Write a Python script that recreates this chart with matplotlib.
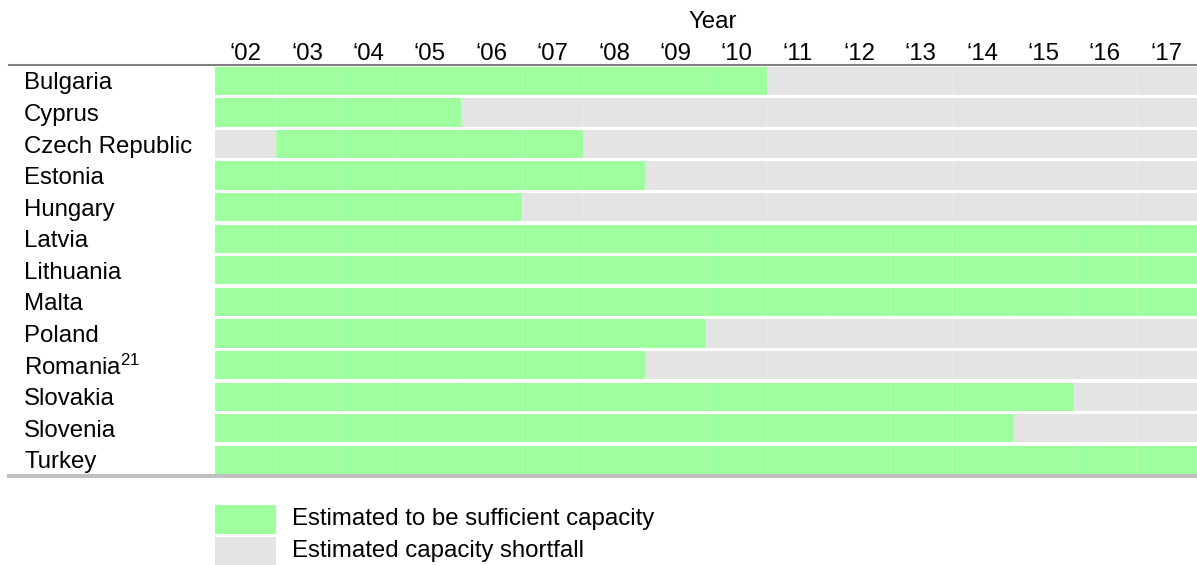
import matplotlib
matplotlib.use("Agg")
import matplotlib.pyplot as plt
from matplotlib.patches import Rectangle
from matplotlib.lines import Line2D
import numpy as np

plt.rcParams['font.family'] = ['Liberation Sans', 'DejaVu Sans']
plt.rcParams['mathtext.fontset'] = 'custom'
plt.rcParams['mathtext.rm'] = 'Liberation Sans'
plt.rcParams['mathtext.it'] = 'Liberation Sans:italic'

# ---- data ----
countries = ["Bulgaria", "Cyprus", "Czech Republic", "Estonia", "Hungary",
             "Latvia", "Lithuania", "Malta", "Poland", r"Romania$^{\mathregular{21}}$",
             "Slovakia", "Slovenia", "Turkey"]
years = list(range(2002, 2018))
year_labels = ["\u2018%02d" % (y % 100) for y in years]
start_year = [2002, 2002, 2003, 2002, 2002, 2002, 2002, 2002, 2002, 2002, 2002, 2002, 2002]
end_year = [2010, 2005, 2007, 2008, 2006, 2017, 2017, 2017, 2009, 2008, 2015, 2014, 2017]
legend_labels = ["Estimated to be sufficient capacity", "Estimated capacity shortfall"]

GREEN = "#9eff9e"
GRAY = "#e4e4e4"
FS = 17.25

W, H = 1197, 565
fig = plt.figure(figsize=(W / 100, H / 100), dpi=100)
ax_left, ax_right = 215, 1197
ax_top, ax_bot = 66.7, 474.0
ax = fig.add_axes([ax_left / W, 1 - ax_bot / H, (ax_right - ax_left) / W, (ax_bot - ax_top) / H])

n = len(countries)
bh = 0.896
rows = np.arange(n)
x0 = years[0]
ncol = len(years)

ax.barh(rows, [ncol] * n, left=0, height=bh, color=GRAY, linewidth=0)
widths = [e - s + 1 for s, e in zip(start_year, end_year)]
lefts = [s - x0 for s in start_year]
ax.barh(rows, widths, left=lefts, height=bh, color=GREEN, linewidth=0)

# faint cell boundaries
ax.vlines(np.arange(1, ncol), -bh / 2, n - 1 + bh / 2, colors="white", alpha=0.2, linewidth=0.8)

ax.set_xlim(0, ncol)
ax.set_ylim(n - 1 + bh / 2, -bh / 2)

ax.xaxis.tick_top()
ax.set_xticks(np.arange(ncol) + 0.5)
ax.set_xticklabels(year_labels, fontsize=FS)
ax.tick_params(axis='x', length=0, pad=1)

ax.set_yticks(rows)
ax.set_yticklabels(countries, fontsize=FS)
ax.tick_params(axis='y', length=0, pad=(215 - 24) * 0.72)
for lbl in ax.get_yticklabels():
    lbl.set_ha('left')

for s in ax.spines.values():
    s.set_visible(False)

ax.text(0.507, 1.095, "Year", transform=ax.transAxes, ha='center', va='baseline', fontsize=FS)

# header and footer rules
fig.add_artist(Line2D([9 / W, 1], [1 - 65.3 / H] * 2, color="#808080", linewidth=1.5))
fig.add_artist(Line2D([9 / W, 1], [1 - 476 / H] * 2, color="#c0c0c0", linewidth=2.9))

# legend (in data units: one column wide)
pitch = (ax_bot - ax_top) / (n - 1 + bh)  # px per row
colw = (ax_right - ax_left) / ncol
leg_tops = [505.3, 536.7]
for col, lab, top in zip([GREEN, GRAY], legend_labels, leg_tops):
    ytop = (top - ax_top) / pitch - bh / 2
    ax.add_patch(Rectangle((0, ytop), 1, bh, facecolor=col, edgecolor='none', clip_on=False))
    ax.text((292 - ax_left) / colw, ytop + bh / 2, lab,
            fontsize=FS, va='center', ha='left', clip_on=False)

fig.savefig("out.png", dpi=100)
